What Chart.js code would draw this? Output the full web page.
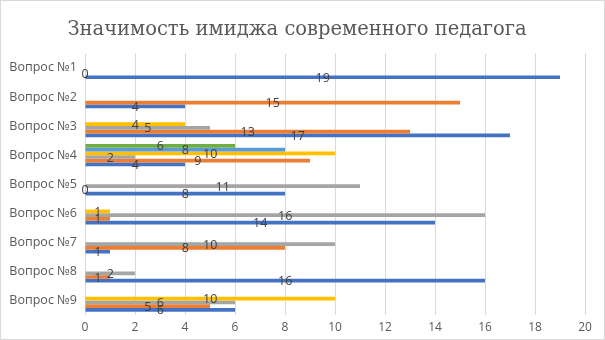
<!DOCTYPE html>
<html>
<head>
<meta charset="utf-8">
<script src="https://cdn.jsdelivr.net/npm/chart.js@4/dist/chart.umd.min.js"></script>
<style>
  html, body { margin: 0; padding: 0; background: #fff; }
  #wrap { width: 605px; height: 340px; }
</style>
</head>
<body>
<div id="wrap"><canvas id="chart" width="605" height="340"></canvas></div>
<script>
// вопросы анкеты
const questions = ['Вопрос №1', 'Вопрос №2', 'Вопрос №3', 'Вопрос №4', 'Вопрос №5',
                   'Вопрос №6', 'Вопрос №7', 'Вопрос №8', 'Вопрос №9'];

// ответы по рядам (null — нет значения)
const ryad1 = [19, 4, 17, 4, 8, 14, 1, 16, 6];
const ryad2 = [0, 15, 13, 9, 0, 1, 8, 1, 5];
const ryad3 = [null, null, 5, 2, 11, 16, 10, 2, 6];
const ryad4 = [null, null, 4, 10, null, 1, null, null, 10];
const ryad5 = [null, null, null, 8, null, null, null, null, null];
const ryad6 = [null, null, null, 6, null, null, null, null, null];

const xTicks = [0, 2, 4, 6, 8, 10, 12, 14, 16, 18, 20];

const colors = ['#4472C4', '#ED7D31', '#A5A5A5', '#FFC000', '#5B9BD5', '#70AD47'];
const series = [ryad1, ryad2, ryad3, ryad4, ryad5, ryad6];

// первый ряд внизу группы, как в Excel
const datasets = series.map((d, i) => ({
    label: 'Ряд ' + (i + 1),
    data: d,
    backgroundColor: colors[i],
    borderWidth: 0,
    categoryPercentage: 0.77,
    barPercentage: 1.0
})).reverse();

// подписи значений по центру полос + рамка вокруг диаграммы
const barLabels = {
    id: 'barLabels',
    beforeDraw(chart) {
        const ctx = chart.ctx;
        ctx.save();
        ctx.fillStyle = '#ffffff';
        ctx.fillRect(0, 0, chart.width, chart.height);
        ctx.strokeStyle = '#d9d9d9';
        ctx.lineWidth = 1;
        ctx.strokeRect(0.5, 0.5, chart.width - 1, chart.height - 1);
        ctx.restore();
    },
    afterDatasetsDraw(chart) {
        const ctx = chart.ctx;
        ctx.save();
        ctx.font = '12.5px "Open Sans"';
        ctx.fillStyle = '#404040';
        ctx.textAlign = 'center';
        ctx.textBaseline = 'middle';
        chart.data.datasets.forEach((ds, di) => {
            const meta = chart.getDatasetMeta(di);
            meta.data.forEach((bar, i) => {
                const v = ds.data[i];
                if (v === null || v === undefined) return;
                const cx = (bar.x + bar.base) / 2;
                ctx.fillText(String(v), cx, bar.y + 1);
            });
        });
        ctx.restore();
    }
};

new Chart(document.getElementById('chart'), {
    type: 'bar',
    data: { labels: questions, datasets: datasets },
    options: {
        indexAxis: 'y',
        responsive: false,
        animation: false,
        layout: { padding: { left: 9, right: 20, top: 0, bottom: 0 } },
        plugins: {
            legend: { display: false },
            tooltip: { enabled: false },
            title: {
                display: true,
                text: 'Значимость имиджа современного педагога',
                color: '#595959',
                font: { family: '"DejaVu Serif"', size: 19.5, weight: 'normal' },
                padding: { top: 18, bottom: 12 }
            }
        },
        scales: {
            x: {
                min: 0,
                max: 20,
                afterBuildTicks(scale) {
                    scale.ticks = xTicks.map(v => ({ value: v }));
                },
                afterFit(scale) { scale.height = 25; },
                grid: { color: '#d9d9d9', drawTicks: false },
                border: { display: false },
                ticks: {
                    color: '#595959',
                    font: { family: '"Open Sans"', size: 12 },
                    padding: 5,
                    maxRotation: 0
                }
            },
            y: {
                afterFit(scale) { scale.width = 76; },
                grid: { display: false },
                border: { display: false },
                ticks: {
                    color: '#595959',
                    font: { family: '"Open Sans"', size: 12.5 },
                    padding: 0
                }
            }
        }
    },
    plugins: [barLabels]
});
</script>
</body>
</html>
